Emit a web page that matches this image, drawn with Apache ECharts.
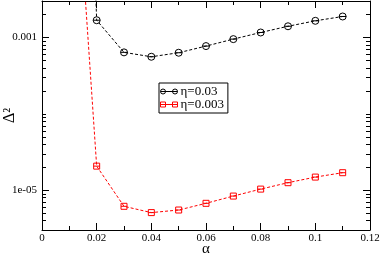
<!DOCTYPE html>
<html>
<head>
<meta charset="utf-8">
<script src="https://cdn.jsdelivr.net/npm/echarts@6/dist/echarts.min.js"></script>
<style>
html,body{margin:0;padding:0;background:#fff;}
#c{width:382px;height:255px;}
</style>
</head>
<body>
<div id="c"></div>
<script>
// ---- data ----
var alphaValues = [0.01, 0.02, 0.03, 0.04, 0.05, 0.06, 0.07, 0.08, 0.09, 0.10, 0.11];
var eta003Values = [1e7, 1.68e-3, 6.37e-4, 5.58e-4, 6.30e-4, 7.70e-4, 9.50e-4, 1.16e-3, 1.40e-3, 1.65e-3, 1.88e-3];
var eta0003Values = [4, 2.06e-5, 6.13e-6, 5.07e-6, 5.48e-6, 6.71e-6, 8.35e-6, 1.03e-5, 1.25e-5, 1.48e-5, 1.69e-5];
var seriesNames = ['η=0.03', 'η=0.003'];
var yLabelValues = [1e-3, 1e-5];
var yLabelTexts = ['0.001', '1e-05'];
var yMajorTicks = [1e-5, 1e-3];
var yMinorTicks = [4e-6, 5e-6, 6e-6, 7e-6, 8e-6, 9e-6,
  2e-5, 3e-5, 4e-5, 5e-5, 6e-5, 7e-5, 8e-5, 9e-5,
  1e-4, 2e-4, 3e-4, 4e-4, 5e-4, 6e-4, 7e-4, 8e-4, 9e-4, 2e-3];

function zip(xs, ys){ return xs.map(function(x,i){ return [x, ys[i]]; }); }

var circleSym = 'path://M0,5A5,5,0,1,1,10,5A5,5,0,1,1,0,5ZM0,5L10,5';
var squareSym = 'path://M0,0L10,0L10,10L0,10ZM0,5L10,5';
var circleIcon = 'path://M0,2.5A2.5,2.5,0,1,1,5,2.5A2.5,2.5,0,1,1,0,2.5ZM0,2.5L17,2.5M12,2.5A2.5,2.5,0,1,1,17,2.5A2.5,2.5,0,1,1,12,2.5Z';
var squareIcon = 'path://M0,0L5,0L5,5L0,5ZM0,2.5L17,2.5M12,0L17,0L17,5L12,5Z';

var tickData = yMajorTicks.map(function(v){ return [0.06, v, 1]; })
  .concat(yMinorTicks.map(function(v){ return [0.06, v, 0]; }));

var serif = 'Liberation Serif';
var chart = echarts.init(document.getElementById('c'), null, {renderer:'canvas'});
chart.setOption({
  animation: false,
  backgroundColor: '#fff',
  grid: {left: 42, right: 12, top: 1, bottom: 25, containLabel: false, outerBoundsMode: 'none'},
  xAxis: [{
    type: 'value', min: 0, max: 0.12, interval: 0.02, position: 'bottom',
    name: 'α', nameLocation: 'middle', nameGap: 12, nameMoveOverlap: false,
    nameTextStyle: {fontFamily: serif, fontSize: 15, color: '#000'},
    axisLine: {show: true, onZero: false, lineStyle: {color: '#000', width: 1}},
    axisTick: {show: true, inside: true, length: 7, lineStyle: {color: '#000'}},
    minorTick: {show: true, splitNumber: 2, length: 4, lineStyle: {color: '#000'}},
    splitLine: {show: false},
    axisLabel: {fontFamily: serif, fontSize: 11, color: '#000', margin: 3,
      formatter: function(v){ return String(+v.toFixed(2)); }}
  }, {
    type: 'value', min: 0, max: 0.12, interval: 0.02, position: 'top',
    axisLine: {show: true, onZero: false, lineStyle: {color: '#000', width: 1}},
    axisTick: {show: true, inside: true, length: 7, lineStyle: {color: '#000'}},
    minorTick: {show: true, splitNumber: 2, length: 4, lineStyle: {color: '#000'}},
    splitLine: {show: false},
    axisLabel: {show: false}
  }],
  yAxis: [{
    type: 'log', logBase: 10, min: 3e-6, max: 3e-3, position: 'left',
    name: 'Δ²', nameLocation: 'middle', nameGap: 24, nameRotate: 90, nameMoveOverlap: false,
    nameTextStyle: {fontFamily: serif, fontSize: 16, color: '#000'},
    axisLine: {show: true, onZero: false, lineStyle: {color: '#000', width: 1}},
    axisTick: {show: false},
    splitLine: {show: false},
    axisLabel: {fontFamily: serif, fontSize: 11, color: '#000', margin: 5,
      showMinLabel: true, showMaxLabel: true,
      formatter: function(v){
        for (var i = 0; i < yLabelValues.length; i++) {
          if (Math.abs(Math.log10(v) - Math.log10(yLabelValues[i])) < 1e-6) return yLabelTexts[i];
        }
        return '';
      }}
  }, {
    type: 'log', logBase: 10, min: 3e-6, max: 3e-3, position: 'right',
    axisLine: {show: true, onZero: false, lineStyle: {color: '#000', width: 1}},
    axisTick: {show: false}, splitLine: {show: false}, axisLabel: {show: false}
  }],
  legend: {
    orient: 'vertical', left: 159, top: 83,
    padding: [2, 4, 2, 1], itemGap: 0, itemWidth: 17, itemHeight: 5,
    symbolKeepAspect: false,
    borderColor: '#000', borderWidth: 1, backgroundColor: '#fff',
    itemStyle: {borderWidth: 1},
    textStyle: {fontFamily: serif, fontSize: 13, color: '#000', padding: [0,0,0,-2]},
    data: [{name: seriesNames[0], icon: circleIcon}, {name: seriesNames[1], icon: squareIcon}]
  },
  series: [{
    name: seriesNames[0], type: 'line', xAxisIndex: 0, yAxisIndex: 0,
    data: zip(alphaValues, eta003Values),
    symbol: circleSym, symbolSize: 7, showAllSymbol: true,
    itemStyle: {color: 'rgba(0,0,0,0)', borderColor: '#000', borderWidth: 1},
    lineStyle: {color: '#000', width: 1, type: [3, 2]},
    z: 3
  }, {
    name: seriesNames[1], type: 'line', xAxisIndex: 0, yAxisIndex: 0,
    data: zip(alphaValues, eta0003Values),
    symbol: squareSym, symbolSize: 6, showAllSymbol: true,
    itemStyle: {color: 'rgba(0,0,0,0)', borderColor: '#ff0000', borderWidth: 1},
    lineStyle: {color: '#ff0000', width: 1, type: [3, 2]},
    z: 3
  }, {
    type: 'custom', xAxisIndex: 0, yAxisIndex: 0, silent: true,
    data: tickData, encode: {x: 0, y: 1},
    renderItem: function(params, api){
      var p = api.coord([api.value(0), api.value(1)]);
      var cs = params.coordSys;
      var len = api.value(2) ? 7 : 4;
      var y = Math.round(p[1]) + 0.5;
      return {type: 'group', children: [
        {type: 'line', shape: {x1: cs.x, y1: y, x2: cs.x + len, y2: y}, style: {stroke: '#000', lineWidth: 1}},
        {type: 'line', shape: {x1: cs.x + cs.width, y1: y, x2: cs.x + cs.width - len, y2: y}, style: {stroke: '#000', lineWidth: 1}}
      ]};
    }
  }]
});
</script>
</body>
</html>
